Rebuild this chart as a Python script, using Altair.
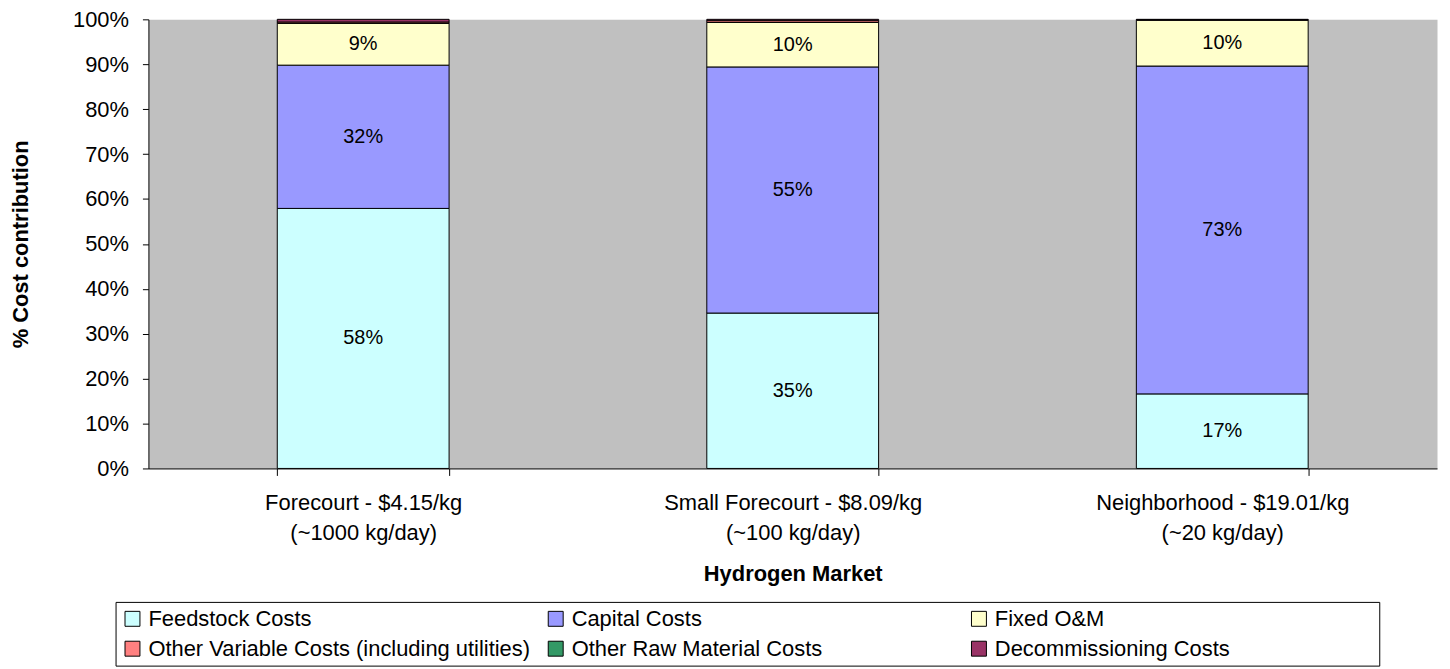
import altair as alt
import pandas as pd

# ---- data ----
markets = [
    "Forecourt - $4.15/kg\n(~1000 kg/day)",
    "Small Forecourt - $8.09/kg\n(~100 kg/day)",
    "Neighborhood - $19.01/kg\n(~20 kg/day)",
]
components = [
    "Feedstock Costs",
    "Capital Costs",
    "Fixed O&M",
    "Other Variable Costs (including utilities)",
    "Other Raw Material Costs",
    "Decommissioning Costs",
]
colors = ["#CCFFFF", "#9999FF", "#FFFFCC", "#FF8080", "#339966", "#993366"]

# percent share of each component (bottom to top)
forecourt = [57.9, 31.9, 9.3, 0.3, 0.0, 0.6]
small_forecourt = [34.6, 54.8, 9.9, 0.4, 0.0, 0.3]
neighborhood = [16.6, 73.0, 10.2, 0.1, 0.0, 0.1]

y_ticks = [0.0, 0.1, 0.2, 0.3, 0.4, 0.5, 0.6, 0.7, 0.8, 0.9, 1.0]

rows = []
for market, vals in zip(markets, [forecourt, small_forecourt, neighborhood]):
    for i, (comp, v) in enumerate(zip(components, vals)):
        rows.append({"market": market, "component": comp, "order": i, "share": v / 100.0})
df = pd.DataFrame(rows)

FONT = "Liberation Sans"
BLANK_PAD = "\u2800" * 9  # blank glyphs that widen the legend frame like the reference

x_enc = alt.X(
    "market:N",
    sort=markets,
    scale=alt.Scale(paddingInner=0.6, paddingOuter=0.3),
    axis=alt.Axis(
        title="Hydrogen Market",
        labelExpr="split(datum.label, '\\n')",
        labelLineHeight=30,
        labelFontSize=22,
        labelAngle=0,
        labelColor="black",
        labelLimit=600,
        labelPadding=17,
        tickBand="extent",
        tickSize=7,
        tickColor="black",
        domainColor="black",
        titleFontSize=22,
        titleFontWeight="bold",
        titleColor="black",
        titleY=106,
        titleBaseline="middle",
        grid=False,
    ),
)

base = alt.Chart(df).transform_stack(
    stack="share",
    groupby=["market"],
    sort=[alt.SortField("order", order="ascending")],
    as_=["y0", "y1"],
)

bars = base.transform_filter("datum.share > 0").mark_bar(
    stroke="black", strokeWidth=1
).encode(
    x=x_enc,
    y=alt.Y(
        "y0:Q",
        scale=alt.Scale(domain=[0, 1], nice=False),
        axis=alt.Axis(
            values=y_ticks,
            format=".0%",
            title="% Cost contribution",
            titleFontSize=22,
            titleFontWeight="bold",
            titleColor="black",
            titleAngle=270,
            titleAlign="center",
            titleBaseline="middle",
            titleX=-128,
            titleY=225.5,
            labelFontSize=22,
            labelColor="black",
            labelPadding=14,
            tickSize=6,
            tickColor="black",
            domainColor="black",
            grid=False,
        ),
    ),
    y2="y1:Q",
    fill=alt.Fill(
        "component:N",
        scale=alt.Scale(domain=components, range=colors),
        legend=alt.Legend(
            title=None,
            orient="none",
            legendX=-33,
            legendY=585,
            columns=3,
            direction="horizontal",
            gridAlign="all",
            symbolType="square",
            symbolSize=225,
            symbolStrokeColor="black",
            symbolStrokeWidth=1,
            symbolOpacity=1,
            labelFontSize=22,
            labelFont=FONT,
            labelColor="black",
            labelLimit=800,
            labelOffset=5,
            labelExpr="datum.label == 'Decommissioning Costs' ? datum.label + '" + BLANK_PAD + "' : datum.label",
            columnPadding=14,
            rowPadding=8,
            padding=6,
            strokeColor="black",
            fillColor="white",
        ),
    ),
    order=alt.Order("order:Q"),
)

labels = base.transform_filter("datum.share >= 0.05").transform_calculate(
    mid="(datum.y0 + datum.y1) / 2"
).mark_text(fontSize=20, font=FONT, color="black").encode(
    x=alt.X("market:N", sort=markets),
    y=alt.Y("mid:Q"),
    text=alt.Text("share:Q", format=".0%"),
)

chart = (
    alt.layer(bars, labels)
    .properties(
        width=1294,
        height=451,
        padding={"left": 141, "top": 10, "right": 5, "bottom": 198},
        autosize=alt.AutoSizeParams(type="none"),
    )
    .configure(font=FONT)
    .configure_view(fill="#C0C0C0", stroke="transparent")
)

chart.save("out.html", embed_options={"renderer": "svg", "actions": False})
